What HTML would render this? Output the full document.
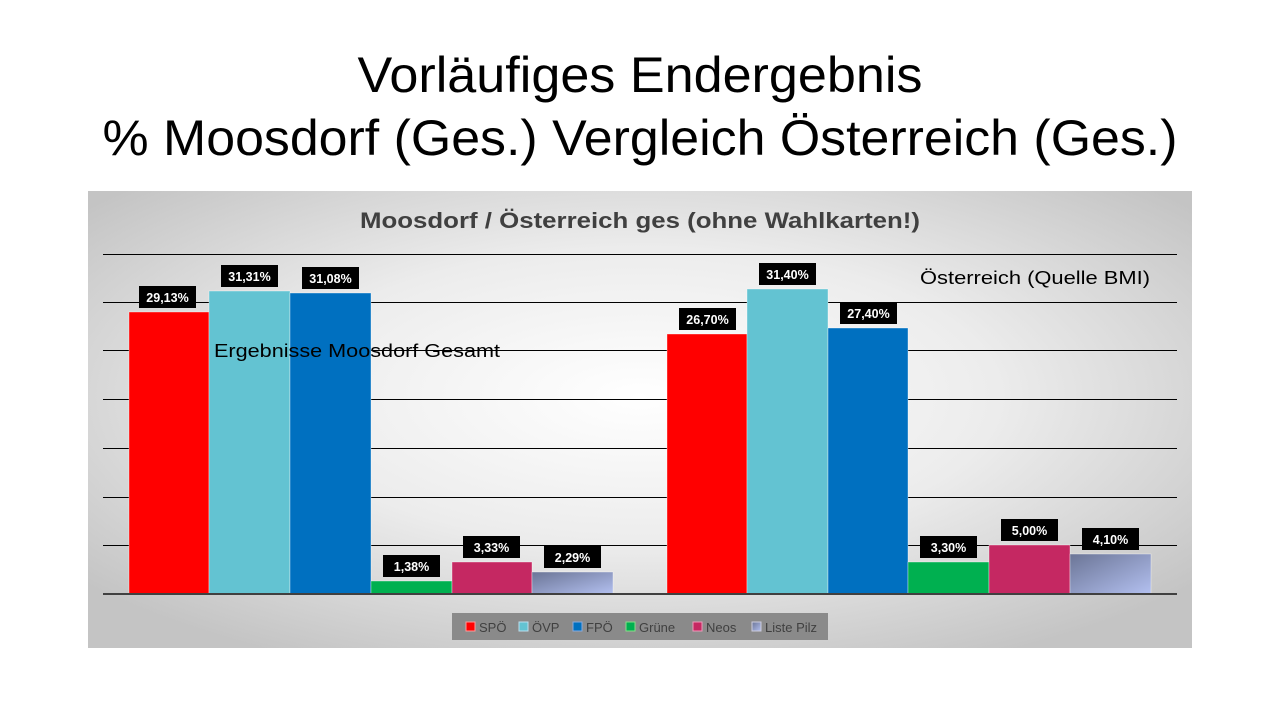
<!DOCTYPE html>
<html><head><meta charset="utf-8"><style>
html,body{margin:0;padding:0;background:#fff;}
svg{display:block;font-family:"Liberation Sans",sans-serif;}
</style></head><body>
<svg width="1280" height="720" viewBox="0 0 1280 720">
<defs>
<radialGradient id="bg" cx="50%" cy="45%" r="65%">
<stop offset="0" stop-color="#ffffff"/><stop offset="0.5" stop-color="#ececec"/><stop offset="1" stop-color="#c4c4c4"/>
</radialGradient>
<linearGradient id="pilz" x1="0" y1="0" x2="1" y2="1">
<stop offset="0" stop-color="#6b7596"/><stop offset="1" stop-color="#b3c0f0"/>
</linearGradient>
</defs>
<text x="640" y="92" font-size="50" text-anchor="middle" fill="#000" textLength="565" lengthAdjust="spacingAndGlyphs">Vorläufiges Endergebnis</text>
<text x="640" y="155" font-size="50" text-anchor="middle" fill="#000" textLength="1075" lengthAdjust="spacingAndGlyphs">% Moosdorf (Ges.) Vergleich Österreich (Ges.)</text>
<rect x="88" y="191" width="1104" height="457" fill="url(#bg)"/>
<text x="640" y="228" font-size="22" font-weight="bold" text-anchor="middle" fill="#404040" textLength="560" lengthAdjust="spacingAndGlyphs">Moosdorf / Österreich ges (ohne Wahlkarten!)</text>
<g stroke="#000" stroke-width="1">
<line x1="103" y1="254.5" x2="1177" y2="254.5"/>
<line x1="103" y1="302.5" x2="1177" y2="302.5"/>
<line x1="103" y1="350.5" x2="1177" y2="350.5"/>
<line x1="103" y1="399.5" x2="1177" y2="399.5"/>
<line x1="103" y1="448.5" x2="1177" y2="448.5"/>
<line x1="103" y1="497.5" x2="1177" y2="497.5"/>
<line x1="103" y1="545.5" x2="1177" y2="545.5"/>
</g>
<g stroke="#fff" stroke-width="0.6" stroke-opacity="0.6">
<rect x="129" y="312" width="80" height="282" fill="#ff0000"/>
<rect x="209" y="291" width="81" height="303" fill="#63c3d2"/>
<rect x="290" y="293" width="81" height="301" fill="#0070c0"/>
<rect x="371" y="581" width="81" height="13" fill="#00b050"/>
<rect x="452" y="562" width="80" height="32" fill="#c52862"/>
<rect x="532" y="572" width="81" height="22" fill="url(#pilz)"/>
<rect x="667" y="334" width="80" height="260" fill="#ff0000"/>
<rect x="747" y="289" width="81" height="305" fill="#63c3d2"/>
<rect x="828" y="328" width="80" height="266" fill="#0070c0"/>
<rect x="908" y="562" width="81" height="32" fill="#00b050"/>
<rect x="989" y="545" width="81" height="49" fill="#c52862"/>
<rect x="1070" y="554" width="81" height="40" fill="url(#pilz)"/>
</g>
<line x1="103" y1="594" x2="1177" y2="594" stroke="#404040" stroke-width="2"/>
<g font-size="12.5" font-weight="bold" fill="#fff" text-anchor="middle">
<rect x="139" y="286" width="57" height="22" fill="#000"/><text x="167.5" y="302">29,13%</text>
<rect x="221" y="265" width="57" height="22" fill="#000"/><text x="249.5" y="281">31,31%</text>
<rect x="302" y="267" width="57" height="22" fill="#000"/><text x="330.5" y="283">31,08%</text>
<rect x="383" y="555" width="57" height="22" fill="#000"/><text x="411.5" y="571">1,38%</text>
<rect x="463" y="536" width="57" height="22" fill="#000"/><text x="491.5" y="552">3,33%</text>
<rect x="544" y="546" width="57" height="22" fill="#000"/><text x="572.5" y="562">2,29%</text>
<rect x="679" y="308" width="57" height="22" fill="#000"/><text x="707.5" y="324">26,70%</text>
<rect x="759" y="263" width="57" height="22" fill="#000"/><text x="787.5" y="279">31,40%</text>
<rect x="840" y="302" width="57" height="22" fill="#000"/><text x="868.5" y="318">27,40%</text>
<rect x="920" y="536" width="57" height="22" fill="#000"/><text x="948.5" y="552">3,30%</text>
<rect x="1001" y="519" width="57" height="22" fill="#000"/><text x="1029.5" y="535">5,00%</text>
<rect x="1082" y="528" width="57" height="22" fill="#000"/><text x="1110.5" y="544">4,10%</text>
</g>
<text x="214" y="357" font-size="18" fill="#000" textLength="286" lengthAdjust="spacingAndGlyphs">Ergebnisse Moosdorf Gesamt</text>
<text x="920" y="284" font-size="18" fill="#000" textLength="230" lengthAdjust="spacingAndGlyphs">Österreich (Quelle BMI)</text>
<rect x="452" y="613" width="376" height="27" fill="#8a8a8a"/>
<g font-size="13" fill="#404040">
<rect x="466" y="622" width="9" height="9" fill="#ff0000" stroke="#f99"/><text x="479" y="632">SPÖ</text>
<rect x="519" y="622" width="9" height="9" fill="#63c3d2" stroke="#bde"/><text x="532" y="632">ÖVP</text>
<rect x="573" y="622" width="9" height="9" fill="#0070c0" stroke="#8ad"/><text x="586" y="632">FPÖ</text>
<rect x="626" y="622" width="9" height="9" fill="#00b050" stroke="#8d8"/><text x="639" y="632">Grüne</text>
<rect x="693" y="622" width="9" height="9" fill="#c52862" stroke="#e9b"/><text x="706" y="632">Neos</text>
<rect x="752" y="622" width="9" height="9" fill="url(#pilz)" stroke="#ccd"/><text x="765" y="632">Liste Pilz</text>
</g>
</svg>
</body></html>
